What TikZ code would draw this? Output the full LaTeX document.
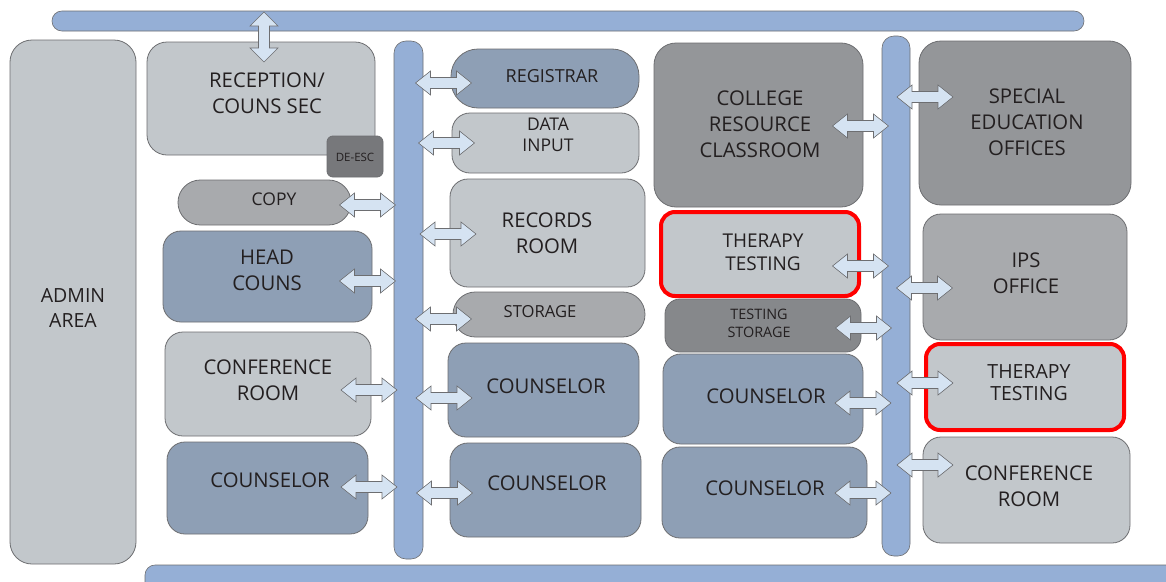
\documentclass[tikz,border=0pt]{standalone}
\usepackage{fontspec}
\setmainfont{Open Sans}
\usetikzlibrary{calc}
\definecolor{lgray}{HTML}{C2C7CB}
\definecolor{bgray}{HTML}{8E9FB5}
\definecolor{mgray}{HTML}{A8AAAD}
\definecolor{dgray}{HTML}{949699}
\definecolor{ddgray}{HTML}{86888B}
\definecolor{degray}{HTML}{77787B}
\definecolor{barblue}{HTML}{95AFD6}
\definecolor{arrfill}{HTML}{D5E3F2}
\definecolor{edge}{HTML}{6D6E71}
\definecolor{ink}{HTML}{231F20}
\definecolor{redline}{HTML}{FF0000}
\begin{document}
\begin{tikzpicture}[x=1pt,y=-1pt,
  room/.style={draw=edge, line width=0.8pt, rounded corners=18pt, inner sep=0pt},
  bar/.style={draw=edge, line width=0.6pt, fill=barblue, inner sep=0pt},
  redbox/.style={draw=redline, line width=4pt, fill=lgray, rounded corners=14pt, inner sep=0pt},
  txt/.style={font=\fontsize{20.3}{25.8}\selectfont, text=ink, align=center, inner sep=0pt},
  smalltxt/.style={font=\fontsize{17.5}{22}\selectfont, text=ink, align=center, inner sep=0pt},
  arrowline/.style={draw=edge, line width=0.6pt, fill=arrfill, line join=miter},
  dbl/.pic={\draw[arrowline] (-28,0)--(-13,-12)--(-13,-5.5)--(13,-5.5)--(13,-12)--(28,0)--(13,12)--(13,5.5)--(-13,5.5)--(-13,12)--cycle;},
  dblv/.pic={\draw[arrowline] (0,-25)--(14,-11)--(5.5,-11)--(5.5,11)--(14,11)--(0,25)--(-14,11)--(-5.5,11)--(-5.5,-11)--(-14,-11)--cycle;}
]
\useasboundingbox (0,0) rectangle (1166,581);
\fill[white] (0,0) rectangle (1166,581);

% corridors
\node[bar, minimum width=1032pt, minimum height=20pt, rounded corners=9.9pt] (topbar) at (568,21) {};
\node[bar, minimum width=1040pt, minimum height=32pt, rounded corners=10pt] (botbar) at (665,581) {};
\node[bar, minimum width=29pt, minimum height=518pt, rounded corners=12pt] (vbarA) at (408.5,300) {};
\node[bar, minimum width=28pt, minimum height=520pt, rounded corners=12pt] (vbarB) at (896,296) {};

% admin
\node[room, fill=lgray, minimum width=126pt, minimum height=524pt, rounded corners=22pt] (admin) at (73,302) {};
\node[txt, font=\fontsize{19.5}{25}\selectfont] (admintxt) at (73,308) {ADMIN\\AREA};

% left column
\node[room, fill=lgray, minimum width=228pt, minimum height=113pt, rounded corners=20pt] (rec) at (261,98.5) {};
\node[txt] (rectxt) at (267,93) {RECEPTION/\\COUNS SEC};
\node[room, fill=degray, minimum width=56pt, minimum height=41pt, rounded corners=6pt] (deesc) at (355,156.5) {};
\node[txt, font=\fontsize{11.5}{13}\selectfont] (deesctxt) at (355,157) {DE-ESC};
\node[room, fill=mgray, minimum width=173pt, minimum height=45pt, rounded corners=22.4pt] (copy) at (264.5,202.5) {};
\node[smalltxt] (copytxt) at (274,199) {COPY};
\node[room, fill=bgray, minimum width=209pt, minimum height=91pt] (head) at (267.5,276.5) {};
\node[txt] (headtxt) at (267,270) {HEAD\\COUNS};
\node[room, fill=lgray, minimum width=206pt, minimum height=104pt] (confL) at (268,384) {};
\node[txt] (confLtxt) at (268,380) {CONFERENCE\\ROOM};
\node[room, fill=bgray, minimum width=201pt, minimum height=92pt] (counsL) at (267.5,488) {};
\node[txt] (counsLtxt) at (270,480) {COUNSELOR};

% middle column
\node[room, fill=bgray, minimum width=188pt, minimum height=59pt, rounded corners=27pt] (reg) at (545,78.5) {};
\node[txt, font=\fontsize{18}{22}\selectfont] (regtxt) at (552,76) {REGISTRAR};
\node[room, fill=lgray, minimum width=187pt, minimum height=60pt] (data) at (545.5,143) {};
\node[smalltxt, font=\fontsize{17.5}{21.5}\selectfont] (datatxt) at (548,135) {DATA\\INPUT};
\node[room, fill=lgray, minimum width=195pt, minimum height=108pt] (records) at (547.5,233) {};
\node[txt] (recordstxt) at (547,233.5) {RECORDS\\ROOM};
\node[room, fill=mgray, minimum width=192pt, minimum height=45pt, rounded corners=22.4pt] (storage) at (549,314.5) {};
\node[smalltxt, font=\fontsize{16.6}{20}\selectfont] (storagetxt) at (540,312) {STORAGE};
\node[room, fill=bgray, minimum width=191pt, minimum height=94pt] (counsM1) at (543.5,390) {};
\node[txt] (counsM1txt) at (546,386) {COUNSELOR};
\node[room, fill=bgray, minimum width=191pt, minimum height=94pt] (counsM2) at (545.5,490) {};
\node[txt] (counsM2txt) at (547,483) {COUNSELOR};

% right-middle column
\node[room, fill=dgray, minimum width=209pt, minimum height=164pt, rounded corners=22pt] (college) at (758.5,125) {};
\node[txt] (collegetxt) at (760,124) {COLLEGE\\RESOURCE\\CLASSROOM};
\node[redbox, minimum width=198pt, minimum height=84pt] (therA) at (760,254) {};
\node[txt, font=\fontsize{19}{23}\selectfont] (therAtxt) at (763,252) {THERAPY\\TESTING};
\node[room, fill=ddgray, minimum width=196pt, minimum height=53pt, rounded corners=15pt] (tstor) at (763,325.5) {};
\node[txt, font=\fontsize{14.4}{18}\selectfont] (tstortxt) at (759,323) {TESTING\\STORAGE};
\node[room, fill=bgray, minimum width=200pt, minimum height=90pt] (counsR1) at (763,399) {};
\node[txt] (counsR1txt) at (766,396) {COUNSELOR};
\node[room, fill=bgray, minimum width=205pt, minimum height=91pt] (counsR2) at (764.5,492.5) {};
\node[txt] (counsR2txt) at (765,488) {COUNSELOR};

% right column
\node[room, fill=dgray, minimum width=212pt, minimum height=164pt, rounded corners=22pt] (sped) at (1025,123) {};
\node[txt] (spedtxt) at (1027,122) {SPECIAL\\EDUCATION\\OFFICES};
\node[room, fill=mgray, minimum width=204pt, minimum height=126pt] (ips) at (1025,277) {};
\node[txt] (ipstxt) at (1026,273) {IPS\\OFFICE};
\node[redbox, minimum width=198pt, minimum height=86pt] (therB) at (1025,387) {};
\node[txt, font=\fontsize{19.5}{22}\selectfont] (therBtxt) at (1029,383) {THERAPY\\TESTING};
\node[room, fill=lgray, minimum width=207pt, minimum height=106pt] (confR) at (1026.5,490) {};
\node[txt] (confRtxt) at (1029,486) {CONFERENCE\\ROOM};

% door arrows
\pic at (264,37) {dblv};
\pic at (443.5,83) {dbl};
\pic at (446.5,143) {dbl};
\pic at (367.5,205) {dbl};
\pic at (448,234) {dbl};
\pic at (367.5,281) {dbl};
\pic at (443.5,319) {dbl};
\pic at (369,390) {dbl};
\pic at (444,398) {dbl};
\pic at (369,487) {dbl};
\pic at (444.5,493) {dbl};
\pic at (860.5,126) {dbl};
\pic at (925,97) {dbl};
\pic at (860.5,266) {dbl};
\pic at (924.5,288) {dbl};
\pic at (863.5,328) {dbl};
\pic at (925,383) {dbl};
\pic at (863,403) {dbl};
\pic at (925,465) {dbl};
\pic at (863,493) {dbl};
\end{tikzpicture}
\end{document}
